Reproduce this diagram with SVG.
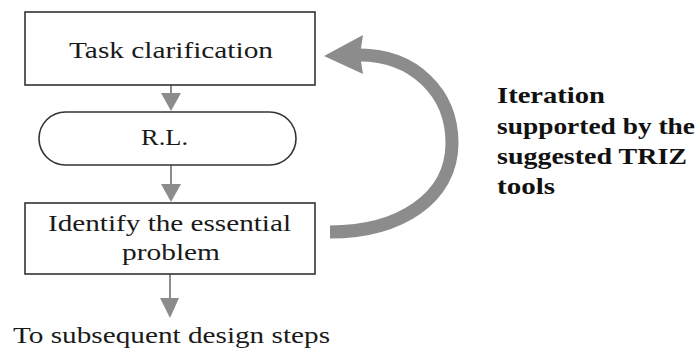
<svg xmlns="http://www.w3.org/2000/svg" width="699" height="349" viewBox="0 0 699 349">
<defs>
<style>
.box{fill:#fff;stroke:#333;stroke-width:1.6}
.t{font-family:"Liberation Serif","Times New Roman",serif;font-size:24px;fill:#1a1a1a}
.b{font-family:"Liberation Serif","Times New Roman",serif;font-size:24px;font-weight:bold;fill:#111}
.ln{stroke:#8c8c8c;stroke-width:2;fill:none}
.hd{fill:#8c8c8c}
</style>
</defs>
<rect width="699" height="349" fill="#fff"/>
<g id="connectors">
<line class="ln" x1="171" y1="85" x2="171" y2="95"/>
<polygon class="hd" points="161,93 181,93 171,111"/>
<line class="ln" x1="171" y1="165" x2="171" y2="186"/>
<polygon class="hd" points="161,184 181,184 171,202"/>
<line class="ln" x1="170" y1="274" x2="170" y2="300"/>
<polygon class="hd" points="160,298 179,298 170,318"/>
<path d="M330,232 C400,232 452,198 452,143 C452,92 413,55 360,55" fill="none" stroke="#8c8c8c" stroke-width="13"/>
<polygon class="hd" points="324,56 363,35 360,55 363,74"/>
</g>
<g id="task">
<rect class="box" x="25" y="12" width="290" height="73"/>
<text class="t" x="69" y="58" textLength="204" lengthAdjust="spacingAndGlyphs">Task clarification</text>
</g>
<g id="rl">
<rect class="box" x="39" y="112" width="257" height="53" rx="26.5" ry="26.5"/>
<text class="t" x="141" y="145" textLength="47" lengthAdjust="spacingAndGlyphs">R.L.</text>
</g>
<g id="identify">
<rect class="box" x="25" y="203" width="290" height="71"/>
<text class="t" x="48" y="231" textLength="243" lengthAdjust="spacingAndGlyphs">Identify the essential</text>
<text class="t" x="122" y="260" textLength="98" lengthAdjust="spacingAndGlyphs">problem</text>
</g>
<g id="subsequent">
<text class="t" x="13" y="343" textLength="317" lengthAdjust="spacingAndGlyphs">To subsequent design steps</text>
</g>
<g id="iteration">
<text class="b" x="497" y="103" textLength="108" lengthAdjust="spacingAndGlyphs">Iteration</text>
<text class="b" x="497" y="134" textLength="198" lengthAdjust="spacingAndGlyphs">supported by the</text>
<text class="b" x="497" y="164" textLength="190" lengthAdjust="spacingAndGlyphs">suggested TRIZ</text>
<text class="b" x="497" y="194" textLength="58" lengthAdjust="spacingAndGlyphs">tools</text>
</g>
</svg>
